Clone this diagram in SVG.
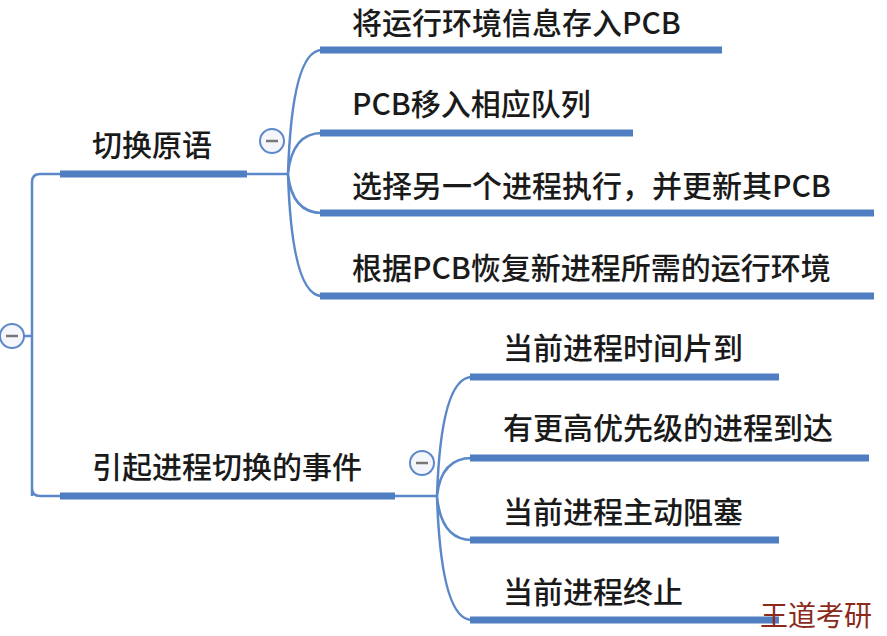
<svg xmlns="http://www.w3.org/2000/svg" width="887" height="636" viewBox="0 0 887 636">
<style>
.t{font-family:"Noto Sans CJK SC","Liberation Sans",sans-serif;font-size:30px;font-weight:500;fill:#1a1a1a}
.th{stroke:#4f7fc2;stroke-width:7;fill:none}
.c{stroke:#5b88c8;stroke-width:2.5;fill:none}
.k{fill:#f4f6fb;stroke:#5b88c8;stroke-width:2}
.m{stroke:#777;stroke-width:2.5}
</style>
<rect width="887" height="636" fill="#ffffff"/>
<g id="connectors">
<path class="c" d="M24 336 H32 M32 496 V182 Q32 174 40 174 H60 M32 336 V488 Q32 496 40 496 H60"/>
<path class="c" d="M245 174 H288"/>
<path class="c" d="M288 174 Q292 50 322 50 M288 174 Q292 133 322 133 M288 174 Q292 213 322 213 M288 174 Q292 296 322 296"/>
<path class="c" d="M393 496 H437"/>
<path class="c" d="M437 496 Q441 377 472 377 M437 496 Q441 458 472 458 M437 496 Q441 540 472 540 M437 496 Q441 620 472 620"/>
</g>
<g id="root"><circle class="k" cx="12" cy="336" r="12"/><line class="m" x1="6" y1="336" x2="18" y2="336"/></g>
<g id="n1"><line class="th" x1="60" y1="174" x2="247" y2="174"/><text class="t" x="92" y="156">切换原语</text>
<circle class="k" cx="272" cy="141" r="12"/><line class="m" x1="266" y1="141" x2="278" y2="141"/></g>
<g id="n11"><line class="th" x1="320" y1="50" x2="722" y2="50"/><text class="t" x="352" y="34">将运行环境信息存入PCB</text></g>
<g id="n12"><line class="th" x1="320" y1="133" x2="633" y2="133"/><text class="t" x="352" y="115">PCB移入相应队列</text></g>
<g id="n13"><line class="th" x1="320" y1="213" x2="874" y2="213"/><text class="t" x="352" y="197">选择另一个进程执行，并更新其PCB</text></g>
<g id="n14"><line class="th" x1="320" y1="296" x2="874" y2="296"/><text class="t" x="352" y="279">根据PCB恢复新进程所需的运行环境</text></g>
<g id="n2"><line class="th" x1="60" y1="496" x2="395" y2="496"/><text class="t" x="92" y="478">引起进程切换的事件</text>
<circle class="k" cx="422" cy="463" r="12"/><line class="m" x1="416" y1="463" x2="428" y2="463"/></g>
<g id="n21"><line class="th" x1="470" y1="377" x2="779" y2="377"/><text class="t" x="503" y="359">当前进程时间片到</text></g>
<g id="n22"><line class="th" x1="470" y1="458" x2="869" y2="458"/><text class="t" x="503" y="439">有更高优先级的进程到达</text></g>
<g id="n23"><line class="th" x1="470" y1="540" x2="779" y2="540"/><text class="t" x="503" y="523">当前进程主动阻塞</text></g>
<g id="n24"><line class="th" x1="470" y1="620" x2="779" y2="620"/><text class="t" x="503" y="603">当前进程终止</text></g>
<text x="760" y="626" style="font-family:'Noto Sans CJK SC',sans-serif;font-size:28px;fill:#8b2a1a">王道考研</text>
</svg>
